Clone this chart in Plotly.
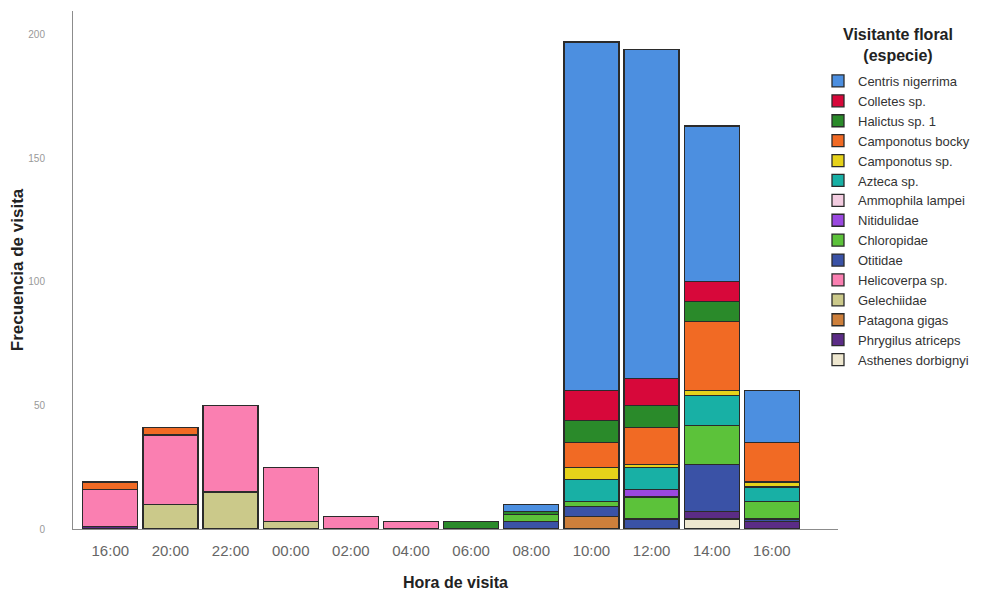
import plotly.graph_objects as go

hours = ["16:00", "20:00", "22:00", "00:00", "02:00", "04:00",
         "06:00", "08:00", "10:00", "12:00", "14:00", "16:00"]

# legend order (top of legend = top of stack)
species = ["Centris nigerrima", "Colletes sp.", "Halictus sp. 1", "Camponotus bocky",
           "Camponotus sp.", "Azteca sp.", "Ammophila lampei", "Nitidulidae",
           "Chloropidae", "Otitidae", "Helicoverpa sp.", "Gelechiidae",
           "Patagona gigas", "Phrygilus atriceps", "Asthenes dorbignyi"]

centris_nigerrima = [0, 0, 0, 0, 0, 0, 0, 3, 141, 133, 63, 21]
colletes_sp = [0, 0, 0, 0, 0, 0, 0, 0, 12, 11, 8, 0]
halictus_sp1 = [0, 0, 0, 0, 0, 0, 3, 1, 9, 9, 8, 0]
camponotus_bocky = [3, 3, 0, 0, 0, 0, 0, 0, 10, 15, 28, 16]
camponotus_sp = [0, 0, 0, 0, 0, 0, 0, 0, 5, 1, 2, 2]
azteca_sp = [0, 0, 0, 0, 0, 0, 0, 0, 9, 9, 12, 6]
ammophila_lampei = [0, 0, 0, 0, 0, 0, 0, 0, 0, 0, 0, 0]
nitidulidae = [0, 0, 0, 0, 0, 0, 0, 0, 0, 3, 0, 0]
chloropidae = [0, 0, 0, 0, 0, 0, 0, 3, 2, 9, 16, 7]
otitidae = [0, 0, 0, 0, 0, 0, 0, 3, 4, 4, 19, 1]
helicoverpa_sp = [15, 28, 35, 22, 5, 3, 0, 0, 0, 0, 0, 0]
gelechiidae = [0, 10, 15, 3, 0, 0, 0, 0, 0, 0, 0, 0]
patagona_gigas = [0, 0, 0, 0, 0, 0, 0, 0, 5, 0, 0, 0]
phrygilus_atriceps = [1, 0, 0, 0, 0, 0, 0, 0, 0, 0, 3, 3]
asthenes_dorbignyi = [0, 0, 0, 0, 0, 0, 0, 0, 0, 0, 4, 0]

series = [centris_nigerrima, colletes_sp, halictus_sp1, camponotus_bocky,
          camponotus_sp, azteca_sp, ammophila_lampei, nitidulidae,
          chloropidae, otitidae, helicoverpa_sp, gelechiidae,
          patagona_gigas, phrygilus_atriceps, asthenes_dorbignyi]

colors = ["#4C8FE0", "#D7083A", "#2A8A2A", "#F16A24", "#E6D21A", "#18B0A5",
          "#F3CCE0", "#9A48E0", "#5CC23A", "#3A52A6", "#FA7FB1", "#CBC98A",
          "#CD7F3B", "#5B2C86", "#EEE7CF"]

xpos = list(range(len(hours)))

# page has an 8px body margin; lay out in figure coordinates
OFF = 8
W, H = 982, 598
ML, MT = 73 - OFF, 11 - OFF
PLOT_R, PLOT_B = 838 - OFF, 529 - OFF
MR, MB = W - PLOT_R, H - PLOT_B
PW = PLOT_R - ML
PH = PLOT_B - MT

fig = go.Figure()
# add from bottom of stack to top
for name, vals, col in reversed(list(zip(species, series, colors))):
    fig.add_trace(go.Bar(
        x=xpos,
        y=[v if v else None for v in vals],
        name=name,
        marker=dict(color=col, line=dict(color="#2b2b2b", width=1.3)),
        hovertemplate="%{y}<extra>" + name + "</extra>",
    ))

fig.add_annotation(
    text="<b>Visitante floral<br>(especie)</b>",
    xref="paper", yref="paper",
    x=(898 - OFF - ML) / PW, y=(PLOT_B - (24 - OFF)) / PH,
    xanchor="center", yanchor="top", align="center", showarrow=False,
    font=dict(size=16, color="#222", family="Arial, Liberation Sans, sans-serif"),
)

fig.update_layout(
    width=W, height=H,
    barmode="stack", bargap=0.085,
    plot_bgcolor="white", paper_bgcolor="white",
    margin=dict(l=ML, r=MR, t=MT, b=MB),
    font=dict(family="Arial, Liberation Sans, sans-serif", color="#444"),
    showlegend=True,
    legend=dict(
        traceorder="reversed",
        x=1 + (975 - OFF - PLOT_R) / PW, y=(PLOT_B - (66 - OFF)) / PH,
        xanchor="right", yanchor="top",
        font=dict(size=13, color="#333"),
        itemclick=False, bgcolor="rgba(0,0,0,0)",
    ),
    xaxis=dict(
        tickmode="array", tickvals=xpos, ticktext=hours,
        range=[-0.62, 12.1], automargin=False,
        showline=True, linecolor="#8c8c8c", linewidth=1,
        showgrid=False, zeroline=False, ticks="",
        ticklabelstandoff=8,
        tickfont=dict(size=15, color="#666"),
        title=dict(text="<b>Hora de visita</b>", font=dict(size=16, color="#222"),
                   standoff=18),
    ),
    yaxis=dict(
        range=[0, 209.5], automargin=False,
        tickvals=[0, 50, 100, 150, 200],
        showline=True, linecolor="#8c8c8c", linewidth=1,
        showgrid=False, zeroline=False, ticks="",
        ticklabelstandoff=25,
        tickfont=dict(size=10, color="#999"),
        title=dict(text="<b>Frecuencia de visita</b>", font=dict(size=17, color="#222"),
                   standoff=9),
    ),
)

fig.write_html("out.html")
